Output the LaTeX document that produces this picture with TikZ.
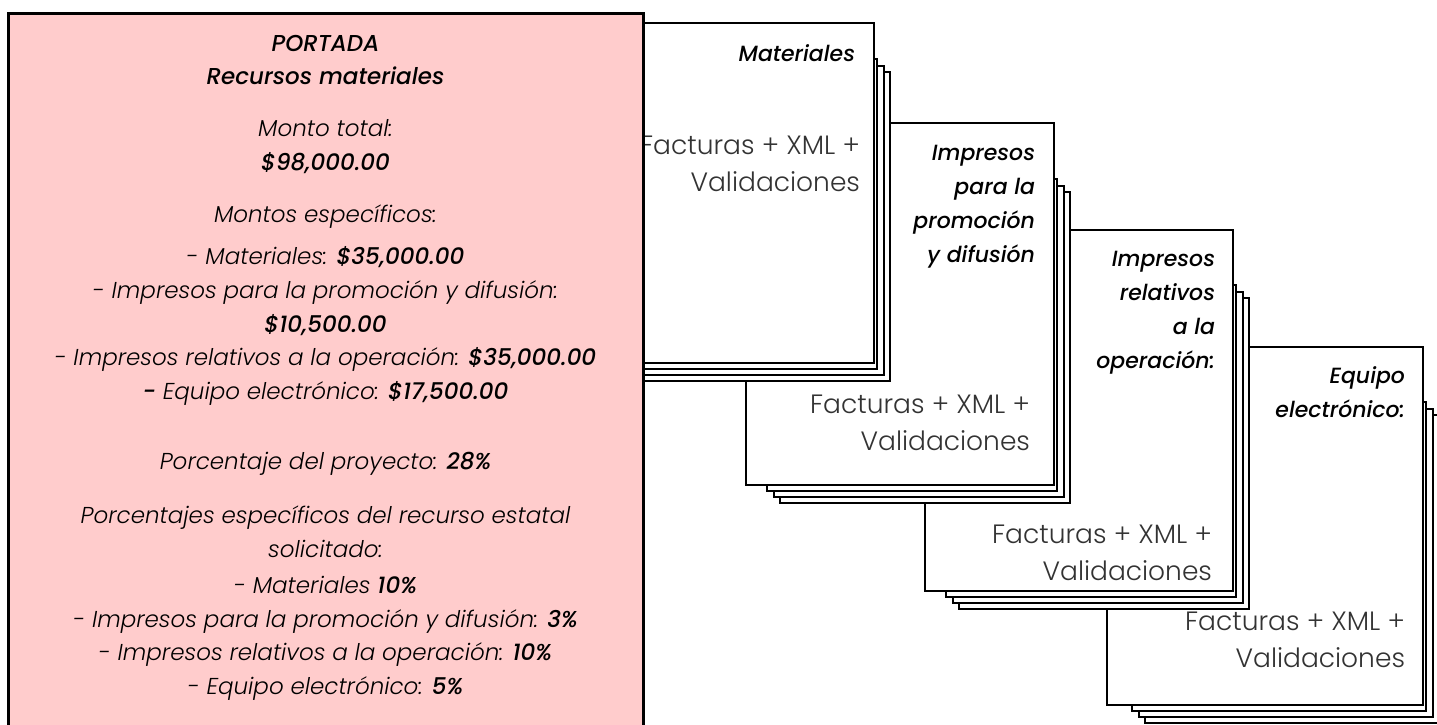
\documentclass[tikz,border=0pt]{standalone}
\usepackage{fontspec}
\setmainfont{Poppins}[UprightFont={* Light}, ItalicFont={* Light Italic}, BoldFont={* Medium}, BoldItalicFont={* Medium Italic}]
\usetikzlibrary{positioning}
\definecolor{rosa}{HTML}{FFCCCC}
\definecolor{gris}{HTML}{333333}

\begin{document}
\begin{tikzpicture}[
            x = 1pt, y = -1pt,
            every node/.style={inner sep=0pt, outer sep=0pt},
            hoja/.style={draw, fill=white, line width=2pt},
            frente/.style={draw, fill=white, line width=2.5pt, anchor=north west},
            titulo/.style={align=right, font=\fontsize{22}{34}\selectfont\itshape\bfseries},
            factura/.style={align=right, text=gris, font=\fontsize{26.5}{36.5}\selectfont},
            ]

        \useasboundingbox (0,0) rectangle (1437,724);
        \clip (0,0) rectangle (1437,724);

        % tarjetas, de atras hacia adelante
        \foreach \l/\t/\r/\b/\dt/\dl/\n in {1107/347/1423/705/55/25/4, 925/230/1233/591/55/21/3, 746/123/1054/485/56/21/2, 564/23/874/363/36/21/1} {
            \foreach \k in {2,1,0} {
                \draw[hoja] (\l+\dl+6.5*\k, \t+\dt+6.5*\k) rectangle (\r+3+6.5*\k, \b+6+6*\k);
            }
            \node[frente, minimum width=\r-\l, minimum height=\b-\t] (c\n) at (\l,\t) {};
        }

        \node[titulo, below left=22pt and 19pt of c1.north east] (t1) {Materiales};
        \node[factura, below left=113pt and 14pt of c1.north east] (f1) {Facturas + XML +\\Validaciones};

        \node[titulo, below left=22pt and 19pt of c2.north east] (t2) {Impresos\\para la\\promoción\\y difusión};
        \node[factura, below left=272pt and 24pt of c2.north east] (f2) {Facturas + XML +\\Validaciones};

        \node[titulo, below left=21pt and 18pt of c3.north east] (t3) {Impresos\\relativos\\a la\\operación:};
        \node[factura, below left=295pt and 21pt of c3.north east] (f3) {Facturas + XML +\\Validaciones};

        \node[titulo, below left=20pt and 18pt of c4.north east] (t4) {Equipo\\electrónico:};
        \node[factura, below left=265pt and 18pt of c4.north east] (f4) {Facturas + XML +\\Validaciones};

        % portada
        \node[draw, fill=rosa, line width=3pt, anchor=north west, minimum width=635, minimum height=740] (caja) at (8,13) {};
        \node[below=22pt of caja.north, align=center, font=\fontsize{23}{33.7}\selectfont\itshape] (resumen) {%
            \textbf{PORTADA}\\
            \textbf{Recursos materiales}\\[18pt]
            Monto total:\\
            \textbf{\$98,000.00}\\[18pt]
            Montos específicos:\\[9pt]
            - Materiales: \textbf{\$35,000.00}\\
            - Impresos para la promoción y difusión:\\
            \textbf{\$10,500.00}\\
            - Impresos relativos a la operación: \textbf{\$35,000.00}\\
            \textbf{-} Equipo electrónico: \textbf{\$17,500.00}\\[36pt]
            Porcentaje del proyecto: \textbf{28\%}\\[21pt]
            Porcentajes específicos del recurso estatal\\
            solicitado:\\[2pt]
            - Materiales \textbf{10\%}\\
            - Impresos para la promoción y difusión: \textbf{3\%}\\
            - Impresos relativos a la operación: \textbf{10\%}\\
            - Equipo electrónico: \textbf{5\%}};

    \end{tikzpicture}
\end{document}
